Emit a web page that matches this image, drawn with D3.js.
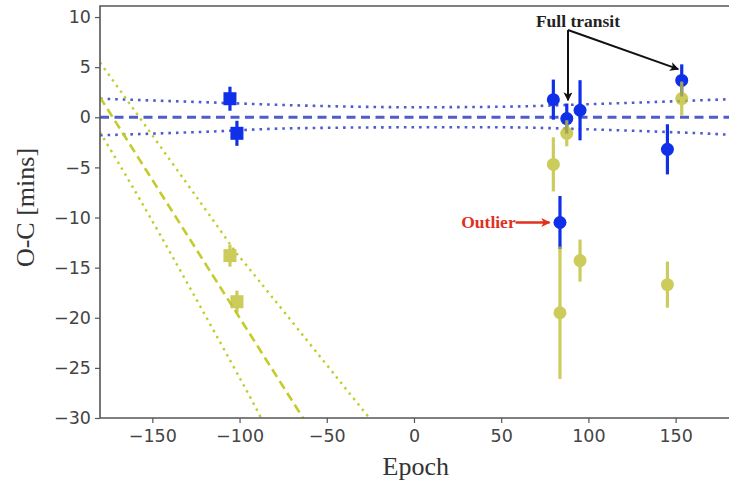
<!DOCTYPE html>
<html>
<head>
<meta charset="utf-8">
<script src="https://cdn.jsdelivr.net/npm/d3@7"></script>
<style>
  body { margin: 0; background: #fff; }
  svg { display: block; }
</style>
</head>
<body>
<svg id="chart"></svg>
<script>
// O-C values, two fits (blue = linear ephemeris, yellow = other fit)
const epochs   = [-105.5, -101.5, 79.9, 83.7, 87.6, 95.2, 145.3, 153.5];
const isSquare = [true, true, false, false, false, false, false, false];
const blueOC   = [1.85, -1.6, 1.76, -10.5, -0.13, 0.7, -3.2, 3.68];
const blueErr  = [1.2, 1.25, 2.0, 2.65, 1.5, 3.0, 2.5, 1.6];
const yellowOC  = [-13.8, -18.4, -4.7, -19.5, -1.6, -14.3, -16.7, 1.86];
const yellowErr = [1.1, 1.1, 2.7, 6.6, 1.3, 2.1, 2.3, 1.7];

// blue band
const bandEpoch = [-180, -120, -70, 0, 50, 100, 150, 165, 181];
const bandUpper = [1.85, 1.5, 1.2, 1.0, 1.05, 1.3, 1.6, 1.7, 1.8];
const bandLower = [-1.8, -1.45, -1.1, -1.0, -1.0, -1.2, -1.5, -1.6, -1.75];

// yellow trend lines, [epoch, value] points
const yCenter = [[-180, 2.0], [-63.6, -30]];
const yUpper  = [[-180, 5.47], [-111.2, -11.24], [-94.0, -15.2], [-25.6, -30]];
const yLower  = [[-180, -1.5], [-145.6, -11.7], [-94.0, -27.9], [-88.9, -30]];

const xTicks = [-150, -100, -50, 0, 50, 100, 150];
const yTicks = [10, 5, 0, -5, -10, -15, -20, -25, -30];

const width = 729, height = 483;
const margin = { top: 6, right: 0, bottom: 65, left: 100 };

const blueMark = "#0f30e8", blueLine = "#4f5ccc";
const yellowMark = "#c0c035", yellowLine = "#c3cc2a";

const svg = d3.select("#chart").attr("width", width).attr("height", height);

const x = d3.scaleLinear().domain([-180, 180.6]).range([margin.left, width - margin.right]);
const y = d3.scaleLinear().domain([-30, 11.1]).range([height - margin.bottom, margin.top]);

svg.append("clipPath").attr("id", "plot")
  .append("rect")
  .attr("x", margin.left).attr("y", margin.top)
  .attr("width", width - margin.left - margin.right)
  .attr("height", height - margin.top - margin.bottom);

const plot = svg.append("g").attr("clip-path", "url(#plot)");

const line = d3.line().x(d => x(d[0])).y(d => y(d[1]));
const smooth = d3.line().x(d => x(d[0])).y(d => y(d[1])).curve(d3.curveMonotoneX);
const natural = d3.line().x(d => x(d[0])).y(d => y(d[1])).curve(d3.curveNatural);

// blue band
plot.append("path")
  .attr("d", line([[-180, 0], [181, 0]]))
  .style("fill", "none").style("stroke", blueLine)
  .style("stroke-width", 3).style("stroke-dasharray", "9,5.5");
[bandUpper, bandLower].forEach(arr => {
  plot.append("path")
    .attr("d", smooth(bandEpoch.map((e, i) => [e, arr[i]])))
    .style("fill", "none").style("stroke", blueLine)
    .style("stroke-width", 2.6).style("stroke-dasharray", "2.6,5");
});

// yellow lines
plot.append("path")
  .attr("d", line(yCenter))
  .style("fill", "none").style("stroke", yellowLine)
  .style("stroke-width", 2.6).style("stroke-dasharray", "9,5");
[yUpper, yLower].forEach(pts => {
  plot.append("path")
    .attr("d", natural(pts))
    .style("fill", "none").style("stroke", yellowLine)
    .style("stroke-width", 2.4).style("stroke-dasharray", "2.4,4.5");
});

function drawPoints(vals, errs, color, opacity) {
  const g = plot.append("g").style("opacity", opacity);
  epochs.forEach((e, i) => {
    g.append("line")
      .attr("x1", x(e)).attr("x2", x(e))
      .attr("y1", y(vals[i] - errs[i])).attr("y2", y(vals[i] + errs[i]))
      .style("stroke", color).style("stroke-width", 3.2);
    if (isSquare[i]) {
      g.append("rect")
        .attr("x", x(e) - 6.5).attr("y", y(vals[i]) - 6.5)
        .attr("width", 13).attr("height", 13)
        .style("fill", color);
    } else {
      g.append("circle")
        .attr("cx", x(e)).attr("cy", y(vals[i])).attr("r", 6.5)
        .style("fill", color);
    }
  });
}
drawPoints(blueOC, blueErr, blueMark, 1);
drawPoints(yellowOC, yellowErr, yellowMark, 0.8);

// axes
const axisColor = "#555";
const fmt = d => d < 0 ? "\u2212" + Math.abs(d) : d;
const xAxis = svg.append("g")
  .attr("transform", `translate(0,${height - margin.bottom})`)
  .call(d3.axisBottom(x).tickValues(xTicks).tickSize(5).tickPadding(7).tickFormat(fmt));
const yAxis = svg.append("g")
  .attr("transform", `translate(${margin.left},0)`)
  .call(d3.axisLeft(y).tickValues(yTicks).tickSize(5).tickPadding(4).tickFormat(fmt));
[xAxis, yAxis].forEach(a => {
  a.select(".domain").remove();
  a.selectAll("line").style("stroke", axisColor).style("stroke-width", 1.2);
  a.selectAll("text").style("font-family", "DejaVu Sans").style("font-size", "17.5px").style("fill", "#444");
});

// spines (left, bottom, top; right side is cut off)
svg.append("path")
  .attr("d", `M${width},${margin.top}H${margin.left}V${height - margin.bottom}H${width}`)
  .style("fill", "none").style("stroke", axisColor).style("stroke-width", 1.6);

svg.append("text")
  .text("Epoch")
  .attr("x", x(1)).attr("y", 475)
  .attr("text-anchor", "middle")
  .style("font-family", "Liberation Serif").style("font-size", "26px").style("fill", "#333");

svg.append("text")
  .text("O-C [mins]")
  .attr("transform", `translate(34,${y(-9)}) rotate(-90)`)
  .attr("text-anchor", "middle")
  .style("font-family", "Liberation Serif").style("font-size", "26px").style("fill", "#333");

// annotations
const defs = svg.append("defs");
function marker(id, color) {
  defs.append("marker").attr("id", id)
    .attr("viewBox", "0 0 10 10").attr("refX", 9).attr("refY", 5)
    .attr("markerWidth", 10).attr("markerHeight", 9)
    .attr("markerUnits", "userSpaceOnUse").attr("orient", "auto")
    .append("path").attr("d", "M0,0L10,5L0,10L2.5,5Z").style("fill", color);
}
marker("arrBlack", "#111");
marker("arrRed", "#e0301e");

const ftOrigin = [88.3, 8.7];
const ftTargets = [[88.3, 1.7], [151.5, 4.8]];
svg.append("text")
  .text("Full transit")
  .attr("x", x(94)).attr("y", y(9.05))
  .attr("text-anchor", "middle")
  .style("font-family", "Liberation Serif").style("font-weight", "bold")
  .style("font-size", "17.5px").style("fill", "#222");
ftTargets.forEach(t => {
  svg.append("line")
    .attr("x1", x(ftOrigin[0])).attr("y1", y(ftOrigin[1]))
    .attr("x2", x(t[0])).attr("y2", y(t[1]))
    .style("stroke", "#111").style("stroke-width", 2)
    .attr("marker-end", "url(#arrBlack)");
});

svg.append("text")
  .text("Outlier")
  .attr("x", x(58.3)).attr("y", y(-10.5) + 5)
  .attr("text-anchor", "end")
  .style("font-family", "Liberation Serif").style("font-weight", "bold")
  .style("font-size", "17.5px").style("fill", "#e0301e");
svg.append("line")
  .attr("x1", x(58.3)).attr("y1", y(-10.5))
  .attr("x2", x(77.7)).attr("y2", y(-10.5))
  .style("stroke", "#e0301e").style("stroke-width", 2.5)
  .attr("marker-end", "url(#arrRed)");
</script>
</body>
</html>
